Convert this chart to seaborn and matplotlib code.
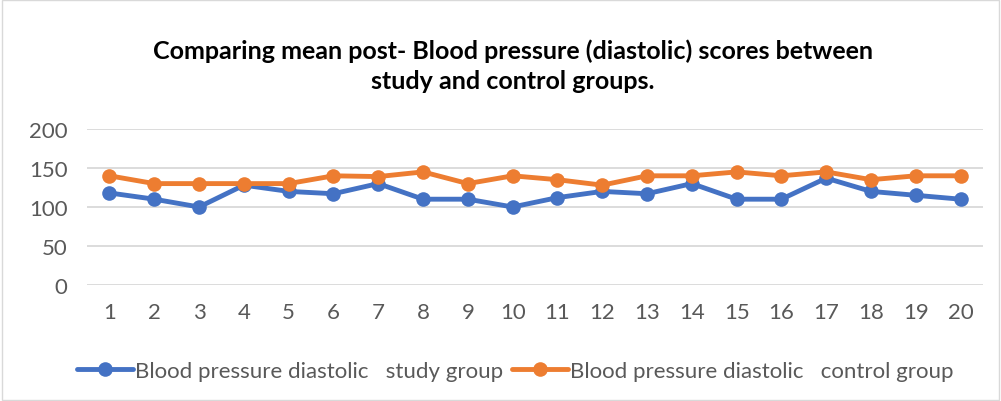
import pandas as pd
import matplotlib.pyplot as plt
import seaborn as sns

# Post blood pressure (diastolic), study vs control groups
cases = list(range(1, 21))
study = [118, 110, 100, 128, 120, 117, 130, 110, 110, 100,
         112, 120, 117, 130, 110, 110, 137, 120, 115, 110]
control = [140, 130, 130, 130, 130, 140, 139, 145, 130, 140,
           135, 128, 140, 140, 145, 140, 145, 135, 140, 140]
labels = ['Blood pressure diastolic   study group',
          'Blood pressure diastolic   control group']
colors = ['#4472C4', '#ED7D31']

df = pd.DataFrame({'case': cases * 2,
                   'value': study + control,
                   'group': [labels[0]] * 20 + [labels[1]] * 20})

sns.set_style('white')
plt.rcParams['font.family'] = ['Lato', 'DejaVu Sans']

fig = plt.figure(figsize=(10.01, 4.02), dpi=100)
ax = fig.add_axes([0.087, 0.2886, 0.895, 0.388])

sns.lineplot(data=df, x='case', y='value', hue='group', palette=colors,
             marker='o', markersize=10.5, markeredgewidth=0, linewidth=3.5,
             ax=ax, legend=True)

ax.set_xlim(0.5, 20.5)
ax.set_ylim(0, 200)
ax.set_yticks([0, 50, 100, 150, 200])
ax.set_xticks(cases)
ax.grid(axis='y', color='#d9d9d9', linewidth=1.3)
ax.set_axisbelow(True)
for s in ax.spines.values():
    s.set_visible(False)
ax.tick_params(axis='both', length=0, labelsize=16, labelcolor='#595959')
ax.tick_params(axis='x', pad=12)
ax.tick_params(axis='y', pad=14)
ax.set_xlabel('')
ax.set_ylabel('')

fig.text(0.512, 0.835, 'Comparing mean post- Blood pressure (diastolic) scores between\nstudy and control groups.',
         ha='center', va='center', fontsize=18, fontweight='bold', color='black',
         linespacing=1.4)

handles, labs = ax.get_legend_handles_labels()
ax.legend(handles, labs, loc='center', bbox_to_anchor=(0.515, 0.075),
          bbox_transform=fig.transFigure, ncol=2, frameon=False,
          fontsize=16, labelcolor='#595959', handlelength=2.5,
          handletextpad=0.1, columnspacing=0.4)

# light frame around the chart
fig.patches.append(plt.Rectangle((0.002, 0.003), 0.996, 0.994, transform=fig.transFigure,
                                 fill=False, edgecolor='#d9d9d9', linewidth=1))

fig.savefig('out.png', dpi=100)
